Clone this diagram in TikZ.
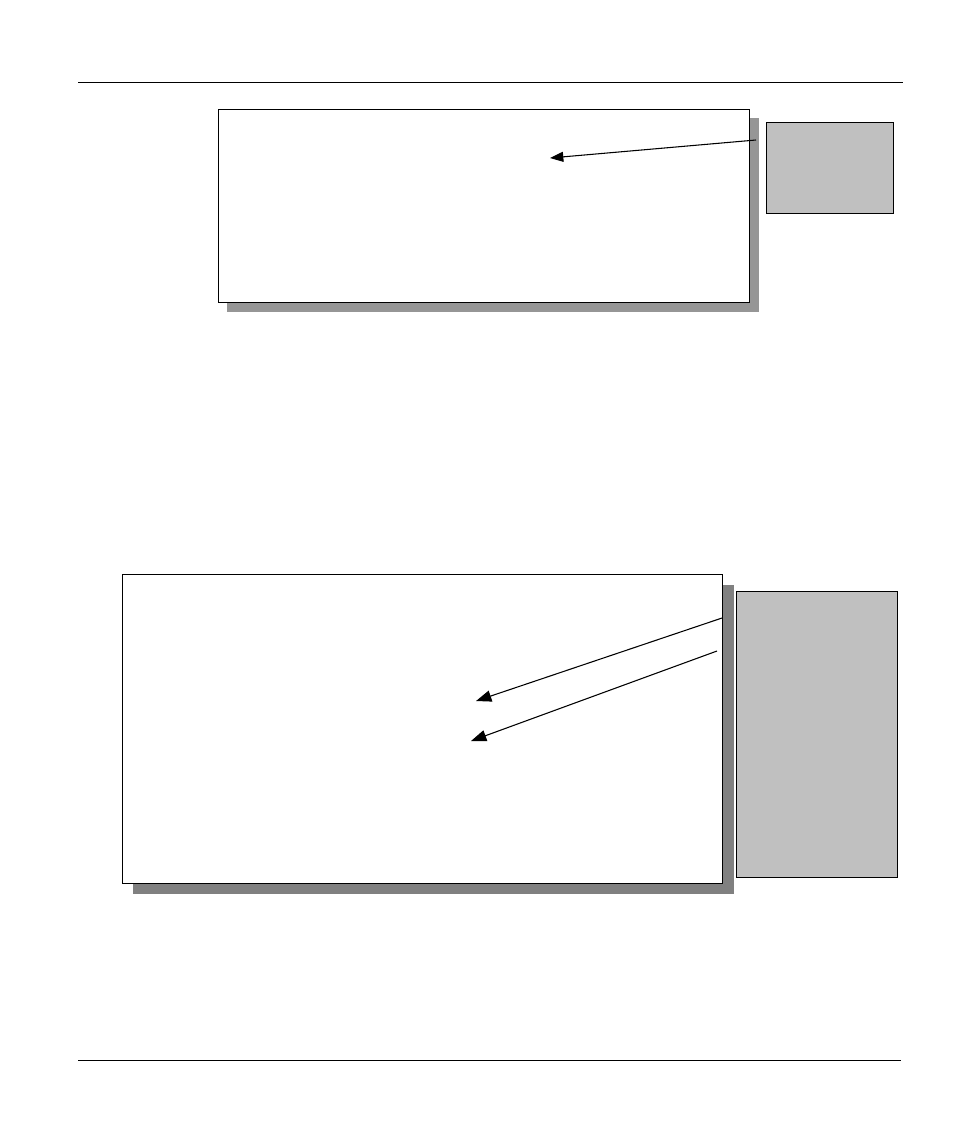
\documentclass[tikz,border=0pt]{standalone}
\usetikzlibrary{arrows.meta}
\begin{document}
\begin{tikzpicture}[x=0.75pt,y=-0.75pt,
  rule/.style={line width=0.75pt,black},
  mainbox/.style={draw=black,line width=0.75pt,fill=white},
  sidebox/.style={draw=black,line width=0.75pt,fill=sidegray},
  pointer/.style={line width=0.8pt,black,-{Triangle[length=10pt,width=7.5pt]}},
  bigpointer/.style={line width=0.8pt,black,-{Triangle[length=11.5pt,width=8.5pt]}}]
\definecolor{sidegray}{HTML}{C0C0C0}
\definecolor{shadowa}{HTML}{969696}
\definecolor{shadowb}{HTML}{808080}
\useasboundingbox (0,0) rectangle (954,1132);
% header and footer rules
\coordinate (hl) at (78,82); \coordinate (hr) at (903,82);
\coordinate (fl) at (78,1060); \coordinate (fr) at (901,1060);
\draw[rule] (hl) -- (hr);
\draw[rule] (fl) -- (fr);
% top group
\fill[shadowa] (227,118) rectangle (759,312);
\draw[mainbox] (218,109) rectangle (749,302);
\draw[sidebox] (766,122) rectangle (893,213);
\coordinate (a1s) at (756,140); \coordinate (a1e) at (550,158);
\draw[pointer] (a1s) -- (a1e);
% bottom group
\fill[shadowb] (133,585) rectangle (734,894);
\draw[mainbox] (122,574) rectangle (722,883);
\draw[sidebox] (736,591) rectangle (897,877);
\coordinate (a2s) at (722,618); \coordinate (a2e) at (476,701);
\coordinate (a3s) at (717,651); \coordinate (a3e) at (471,741);
\draw[bigpointer] (a2s) -- (a2e);
\draw[bigpointer] (a3s) -- (a3e);
\end{tikzpicture}
\end{document}
